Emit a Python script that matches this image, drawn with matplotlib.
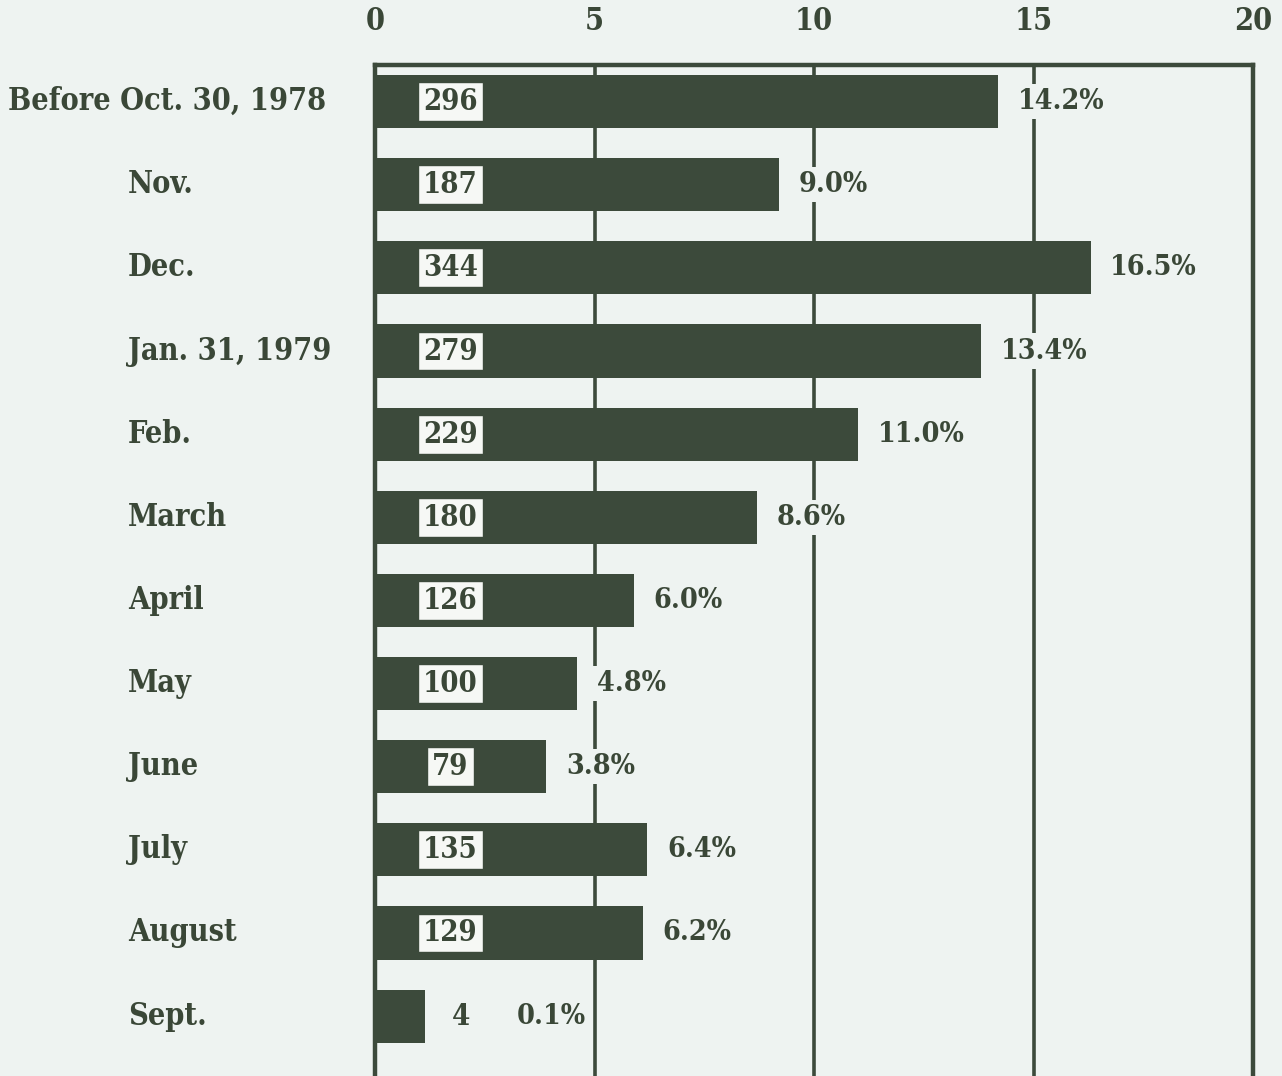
import matplotlib
matplotlib.use("Agg")
import matplotlib.pyplot as plt
import matplotlib.transforms as mtransforms

# ---- data ----
categories = ["Before Oct. 30, 1978", "Nov.", "Dec.", "Jan. 31, 1979", "Feb.",
              "March", "April", "May", "June", "July", "August", "Sept."]
counts = [296, 187, 344, 279, 229, 180, 126, 100, 79, 135, 129, 4]
percent_labels = ["14.2%", "9.0%", "16.5%", "13.4%", "11.0%", "8.6%",
                  "6.0%", "4.8%", "3.8%", "6.4%", "6.2%", "0.1%"]
# bar lengths as drawn in the picture (percent scale)
bar_lengths = [14.2, 9.2, 16.3, 13.8, 11.0, 8.7, 5.9, 4.6, 3.9, 6.2, 6.1, 1.15]
x_ticks = [0, 5, 10, 15, 20]

BG = "#eef3f1"
DARK = "#3c4a3b"
TXT = "#3a4737"

FONT = dict(family="DejaVu Serif", weight="bold", stretch="condensed")

W, H = 1282, 1076
fig = plt.figure(figsize=(W / 100, H / 100), dpi=100, facecolor=BG)
ax = fig.add_axes([375 / W, 0, (1253 - 375) / W, (1076 - 65) / H])
ax.set_facecolor(BG)

y = list(range(len(categories)))
ax.barh(y, bar_lengths, height=0.64, color=DARK, zorder=3)

ax.set_xlim(0, 20)
ax.set_ylim(11.72, -0.44)
ax.set_yticks([])
ax.xaxis.tick_top()
ax.set_xticks(x_ticks)
ax.set_xticklabels([str(t) for t in x_ticks], color=TXT, fontsize=22, **FONT)
ax.tick_params(axis="x", length=0, pad=20)
for s in ["top", "left", "right"]:
    ax.spines[s].set_color(DARK)
    ax.spines[s].set_linewidth(3.2)
ax.spines["bottom"].set_visible(False)
for t in x_ticks[1:-1]:
    ax.axvline(t, color=DARK, lw=2.6, zorder=1)

for i, (c, p, L) in enumerate(zip(counts, percent_labels, bar_lengths)):
    if L > 3:
        ax.text(1.72, i, str(c), ha="center", va="center", fontsize=21,
                color=TXT, zorder=5, **FONT,
                bbox=dict(boxstyle="square,pad=0.17", fc="#f6f8f5",
                          ec=DARK, lw=1))
        ax.text(L + 0.45, i, p, ha="left", va="center", fontsize=20.5,
                color=TXT, zorder=4, **FONT,
                bbox=dict(boxstyle="square,pad=0.15", fc=BG, ec="none"))
    else:
        ax.text(L + 0.8, i, str(c), ha="center", va="center", fontsize=21,
                color=TXT, zorder=4, **FONT)
        ax.text(L + 2.08, i, p, ha="left", va="center", fontsize=20.5,
                color=TXT, zorder=4, **FONT,
                bbox=dict(boxstyle="square,pad=0.15", fc=BG, ec="none"))

trans = mtransforms.blended_transform_factory(fig.transFigure, ax.transData)
for i, cat in enumerate(categories):
    xf = 8 / W if i == 0 else 128 / W
    fig.text(xf, i, cat, transform=trans, ha="left", va="center",
             fontsize=22, color=TXT, **FONT)

fig.savefig("out.png", dpi=100, facecolor=BG)
